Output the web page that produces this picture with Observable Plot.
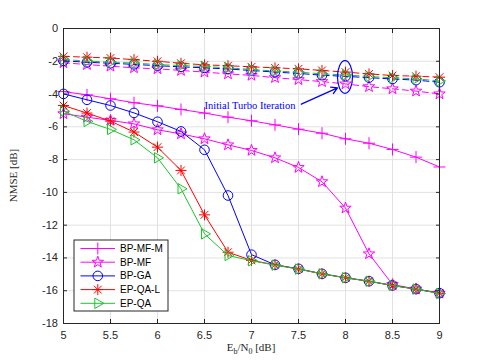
<!DOCTYPE html>
<html><head><meta charset="utf-8">
<script src="https://cdn.jsdelivr.net/npm/d3@7"></script>
<script src="https://cdn.jsdelivr.net/npm/@observablehq/plot@0.6"></script>
<style>
body{margin:0;background:#fff}
#chart{width:485px;height:363px}
</style>
</head><body><div id="chart"></div>
<script>
// ---- data ----
const snr = [5,5.25,5.5,5.75,6,6.25,6.5,6.75,7,7.25,7.5,7.75,8,8.25,8.5,8.75,9];
const xTicks = [5,5.5,6,6.5,7,7.5,8,8.5,9];
const yTicks = [-18,-16,-14,-12,-10,-8,-6,-4,-2,0];
const names = ["BP-MF-M","BP-MF","BP-GA","EP-QA-L","EP-QA"];
const colors = ["#ff00ff","#ff00ff","#0000ff","#ff0000","#1ec42e"];

// final turbo iteration (solid)
const bpmfmFinal = [-3.85,-4.05,-4.29,-4.53,-4.72,-4.94,-5.16,-5.41,-5.63,-5.88,-6.14,-6.39,-6.73,-7.0,-7.38,-7.85,-8.45];
const bpmfFinal  = [-5.2,-5.41,-5.61,-5.82,-6.18,-6.43,-6.73,-7.1,-7.44,-7.89,-8.48,-9.35,-10.96,-13.75,-15.62,-15.9,-16.15];
const bpgaFinal  = [-3.99,-4.35,-4.7,-5.15,-5.69,-6.28,-7.4,-10.19,-13.8,-14.42,-14.66,-14.97,-15.21,-15.42,-15.68,-15.9,-16.15];
const epqalFinal = [-4.7,-5.16,-5.65,-6.32,-7.24,-8.66,-11.37,-13.65,-14.15,-14.42,-14.68,-14.97,-15.21,-15.42,-15.68,-15.9,-16.15];
const epqaFinal  = [-5.04,-5.67,-6.16,-6.79,-7.89,-9.78,-12.53,-13.85,-14.17,-14.44,-14.68,-14.97,-15.21,-15.42,-15.68,-15.9,-16.17];

// initial turbo iteration (dashed)
const bpmfInit  = [-2.09,-2.2,-2.3,-2.4,-2.46,-2.56,-2.66,-2.77,-2.86,-3.0,-3.12,-3.24,-3.38,-3.55,-3.68,-3.82,-3.99];
const bpgaInit  = [-1.97,-2.06,-2.12,-2.19,-2.27,-2.34,-2.4,-2.47,-2.56,-2.66,-2.74,-2.85,-2.92,-3.0,-3.08,-3.15,-3.28];
const epqalInit = [-1.7,-1.75,-1.8,-1.9,-2.0,-2.12,-2.22,-2.27,-2.34,-2.4,-2.46,-2.56,-2.66,-2.77,-2.87,-2.91,-2.97];
const epqaInit  = [-1.89,-1.99,-2.05,-2.11,-2.2,-2.26,-2.32,-2.4,-2.5,-2.6,-2.66,-2.77,-2.83,-2.93,-3.01,-3.07,-3.2];

// annotation
const annoText = ["Initial Turbo Iteration"];
const annoTextPos = [6.5, -4.72];
const ellipseCenter = [8, -2.99];
const ellipseRadii = [0.08, 1.0];
const arrowFrom = [7.53, -4.62];
const arrowTo = [7.915, -3.62];

// ---- symbols (MATLAB-like markers) ----
const R = s => Math.sqrt(s / Math.PI);
const symPlus = {draw(c, s){const r=R(s); c.moveTo(-r,0); c.lineTo(r,0); c.moveTo(0,-r); c.lineTo(0,r);}};
const symStar = {draw(c, s){const r=R(s), ri=r*0.40;
  for(let i=0;i<10;i++){const a=-Math.PI/2+i*Math.PI/5, rr=i%2?ri:r; const x=rr*Math.cos(a), y=rr*Math.sin(a); i?c.lineTo(x,y):c.moveTo(x,y);} c.closePath();}};
const symCircle = {draw(c, s){const r=R(s); c.moveTo(r,0); c.arc(0,0,r,0,2*Math.PI);}};
const symAst = {draw(c, s){const r=R(s); for(let i=0;i<4;i++){const a=i*Math.PI/4; c.moveTo(-r*Math.cos(a),-r*Math.sin(a)); c.lineTo(r*Math.cos(a),r*Math.sin(a));}}};
const symTri = {draw(c, s){const r=R(s); c.moveTo(r,0); c.lineTo(-r*0.5,-r*0.866); c.lineTo(-r*0.5,r*0.866); c.closePath();}};
const symbols = [symPlus, symStar, symCircle, symAst, symTri];
const radii = [6, 6, 4.8, 5.5, 6];

const finals = [bpmfmFinal, bpmfFinal, bpgaFinal, epqalFinal, epqaFinal];
const inits = [null, bpmfInit, bpgaInit, epqalInit, epqaInit];

const rows = (arr) => snr.map((x, i) => ({x, y: arr[i]}));

const marks = [
  Plot.gridX(xTicks, {stroke: "#e2e2e2", strokeOpacity: 1, strokeWidth: 1}),
  Plot.gridY(yTicks, {stroke: "#e2e2e2", strokeOpacity: 1, strokeWidth: 1}),
];
names.forEach((n, k) => {
  marks.push(Plot.line(rows(finals[k]), {x: "x", y: "y", stroke: colors[k], strokeWidth: 1}));
  marks.push(Plot.dot(rows(finals[k]), {x: "x", y: "y", symbol: symbols[k], r: radii[k], stroke: colors[k], fill: "none", strokeWidth: 1}));
});
names.forEach((n, k) => {
  if (!inits[k]) return;
  marks.push(Plot.line(rows(inits[k]), {x: "x", y: "y", stroke: colors[k], strokeWidth: 1, strokeDasharray: "6,4"}));
  marks.push(Plot.dot(rows(inits[k]), {x: "x", y: "y", symbol: symbols[k], r: radii[k], stroke: colors[k], fill: "none", strokeWidth: 1}));
});
// annotation
marks.push(Plot.text(annoText, {x: () => annoTextPos[0], y: () => annoTextPos[1], text: d => d, textAnchor: "start",
  fill: "#0000ff", fontFamily: "Liberation Serif, Times New Roman, serif", fontSize: 10.5}));
marks.push(Plot.arrow([0], {x1: () => arrowFrom[0], y1: () => arrowFrom[1], x2: () => arrowTo[0], y2: () => arrowTo[1],
  stroke: "#0000ff", strokeWidth: 1.3, headLength: 8}));
// frame + axes
marks.push(Plot.frame({stroke: "#262626", strokeWidth: 1}));
marks.push(Plot.axisX(xTicks, {anchor: "bottom", tickSize: 0, tickPadding: 8, tickFormat: d => String(d), label: null, fill: "#262626", fontSize: 11}));
marks.push(Plot.axisY(yTicks, {anchor: "left", tickSize: 0, tickPadding: 5.5, tickFormat: d => String(d), label: null, fill: "#262626", fontSize: 11}));
marks.push(Plot.axisX(xTicks, {anchor: "bottom", tickSize: -4, tickFormat: () => "", label: null, stroke: "#262626"}));
marks.push(Plot.axisX(xTicks, {anchor: "top", tickSize: -4, tickFormat: () => "", label: null, stroke: "#262626"}));
marks.push(Plot.axisY(yTicks, {anchor: "left", tickSize: -4, tickFormat: () => "", label: null, stroke: "#262626"}));
marks.push(Plot.axisY(yTicks, {anchor: "right", tickSize: -4, tickFormat: () => "", label: null, stroke: "#262626"}));

const chart = Plot.plot({
  width: 485, height: 363,
  marginLeft: 63, marginRight: 46, marginTop: 28, marginBottom: 40,
  x: {domain: [5, 9]},
  y: {domain: [-18, 0]},
  style: {fontFamily: "Liberation Sans, Arial, sans-serif", fontSize: "11px", background: "#fff", color: "#262626"},
  marks
});

const svg = d3.select(chart);
const sx = chart.scale("x"), sy = chart.scale("y");

// ellipse annotation
svg.append("ellipse")
  .attr("cx", sx.apply(ellipseCenter[0])).attr("cy", sy.apply(ellipseCenter[1]))
  .attr("rx", sx.apply(ellipseCenter[0] + ellipseRadii[0]) - sx.apply(ellipseCenter[0]))
  .attr("ry", sy.apply(ellipseCenter[1] - ellipseRadii[1]) - sy.apply(ellipseCenter[1]))
  .attr("fill", "none").attr("stroke", "#0000ff").attr("stroke-width", 1.2);

// axis titles
const serif = "Liberation Serif, Times New Roman, serif";
const xl = svg.append("text").attr("x", (sx.apply(5) + sx.apply(9)) / 2).attr("y", 351)
  .attr("text-anchor", "middle").attr("font-family", serif).attr("font-size", 11).attr("fill", "#262626");
xl.append("tspan").text("E");
xl.append("tspan").attr("font-size", 8).attr("dy", 3).text("b");
xl.append("tspan").attr("dy", -3).text("/N");
xl.append("tspan").attr("font-size", 8).attr("dy", 3).text("0");
xl.append("tspan").attr("dy", -3).text(" [dB]");

svg.append("text").attr("transform", `translate(17,${(sy.apply(0) + sy.apply(-18)) / 2}) rotate(-90)`)
  .attr("text-anchor", "middle").attr("font-family", serif).attr("font-size", 11).attr("fill", "#262626")
  .text("NMSE [dB]");

// legend
const lg = svg.append("g").attr("transform", "translate(74,240)");
lg.append("rect").attr("width", 94).attr("height", 71).attr("fill", "#fff").attr("stroke", "#262626").attr("stroke-width", 1);
names.forEach((n, k) => {
  const y = 8.5 + k * 13.7;
  lg.append("line").attr("x1", 6.5).attr("x2", 41).attr("y1", y).attr("y2", y).attr("stroke", colors[k]).attr("stroke-width", 1);
  lg.append("path").attr("transform", `translate(23.8,${y})`)
    .attr("d", d3.symbol(symbols[k], Math.PI * radii[k] * radii[k])())
    .attr("fill", "none").attr("stroke", colors[k]).attr("stroke-width", 1);
  lg.append("text").attr("x", 46).attr("y", y).attr("dy", "0.35em").attr("font-size", 10)
    .attr("text-anchor", "start")
    .attr("font-family", "Liberation Sans, Arial, sans-serif").attr("fill", "#000").text(n);
});

document.getElementById("chart").appendChild(chart);
</script>
</body></html>
